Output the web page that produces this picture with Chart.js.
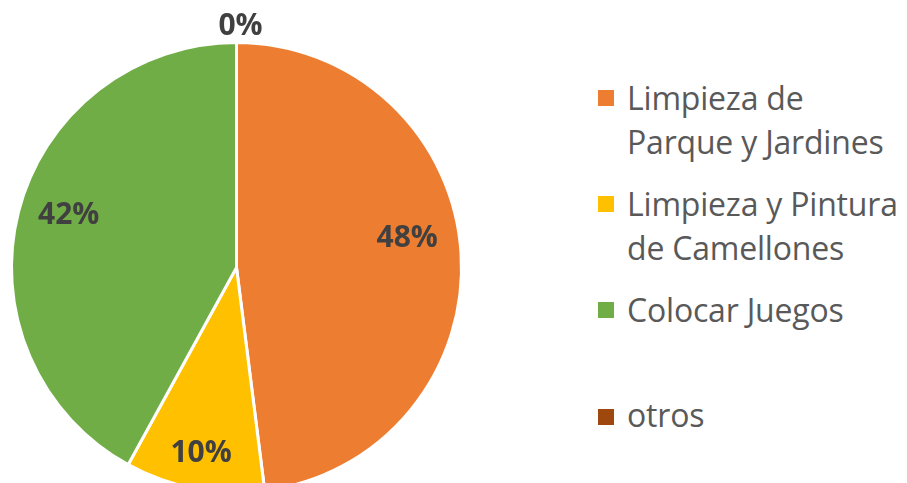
<!DOCTYPE html>
<html lang="es">
<head>
    <meta charset="UTF-8">
    <title>Pie</title>
    <script src="https://cdn.jsdelivr.net/npm/chart.js"></script>
    <style>
        body {
            margin: 0;
            width: 907px;
            height: 483px;
            overflow: hidden;
            background: #fff;
            font-family: 'Open Sans', sans-serif;
            position: relative;
        }
        .pie-box {
            position: absolute;
            left: 0;
            top: 0;
            width: 473px;
            height: 504px;
        }
        .legend-item {
            position: absolute;
            left: 598px;
            color: #595959;
            font-size: 32px;
            line-height: 44px;
            letter-spacing: -0.2px;
        }
        .legend-item .sw {
            position: absolute;
            left: 0;
            width: 16px;
            height: 16px;
        }
        .legend-item .txt {
            margin-left: 29px;
            white-space: nowrap;
        }
    </style>
</head>
<body>
    <div class="pie-box"><canvas id="pie"></canvas></div>
    <div id="legend"></div>

    <script>
        const labels = ["Limpieza de Parque y Jardines", "Limpieza y Pintura de Camellones", "Colocar Juegos", "otros"];
        const legendLines = [["Limpieza de", "Parque y Jardines"], ["Limpieza y Pintura", "de Camellones"], ["Colocar Juegos"], ["otros"]];
        const values = [48, 10, 42, 0];
        const colors = ["#ED7D31", "#FFC000", "#70AD47", "#9E480E"];

        // legend tops (px) per entry
        const legendTops = [76, 182, 288, 393];
        let legend = document.getElementById("legend");
        legendLines.forEach((lines, i) => {
            let item = document.createElement("div");
            item.className = "legend-item";
            item.style.top = legendTops[i] + "px";
            item.innerHTML = '<span class="sw" style="background:' + colors[i] + ';top:' + (14 + (i == 3 ? 2 : 0)) + 'px"></span>' +
                '<div class="txt">' + lines.join("<br>") + '</div>';
            legend.appendChild(item);
        });

        const pctLabels = {
            id: 'pctLabels',
            afterDatasetsDraw(chart, args, opts) {
                let ctx = chart.ctx;
                let meta = chart.getDatasetMeta(0);
                ctx.save();
                ctx.font = "bold 30px 'Open Sans', sans-serif";
                ctx.fillStyle = "#404040";
                ctx.textAlign = "center";
                ctx.textBaseline = "middle";
                meta.data.forEach((arc, i) => {
                    let v = values[i];
                    let mid = (arc.startAngle + arc.endAngle) / 2;
                    let r = v === 0 ? arc.outerRadius + 16 : arc.outerRadius * opts.factor[i];
                    let x = arc.x + Math.cos(mid) * r;
                    let y = arc.y + Math.sin(mid) * r + opts.dy[i];
                    ctx.fillText(v + "%", x + (v === 0 ? 4 : 0), y);
                });
                ctx.restore();
            }
        };

        new Chart(document.getElementById("pie"), {
            type: 'pie',
            data: {
                labels: labels,
                datasets: [{
                    data: values,
                    backgroundColor: colors,
                    borderColor: "#ffffff",
                    borderWidth: 3
                }]
            },
            options: {
                responsive: true,
                maintainAspectRatio: false,
                animation: false,
                layout: { padding: { top: 41, left: 10, right: 10, bottom: 10 } },
                plugins: {
                    legend: { display: false },
                    tooltip: { enabled: false },
                    pctLabels: { factor: [0.76, 0.84, 0.77, 1], dy: [-18, 0, -9, 0] }
                }
            },
            plugins: [pctLabels]
        });
    </script>
</body>
</html>
